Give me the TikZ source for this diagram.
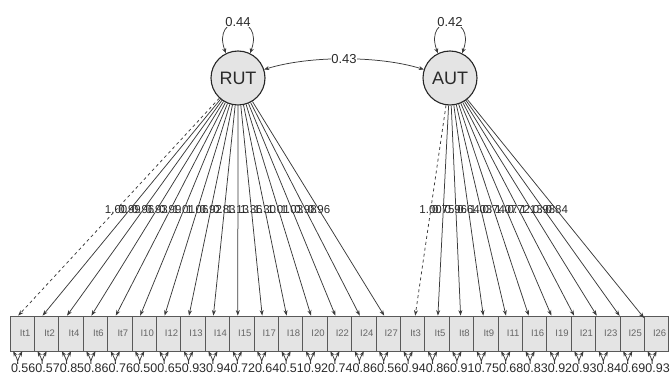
\documentclass[tikz,border=0pt]{standalone}
\usepackage{fontspec}
\setmainfont{Liberation Sans}
\usetikzlibrary{arrows.meta,calc}
\definecolor{edgecol}{HTML}{3A3A3A}
\definecolor{boxfill}{HTML}{E4E4E4}
\definecolor{numcol}{HTML}{2A2A2A}
\begin{document}
\begin{tikzpicture}[x=1pt,y=-1pt,
  latent/.style={circle,draw=black!85,line width=1.1pt,fill=boxfill,
    minimum size=54pt,inner sep=0pt,font=\fontsize{18}{20}\selectfont,text=numcol},
  manifest/.style={rectangle,draw=black!65,line width=0.75pt,fill=boxfill,
    minimum width=24.4pt,minimum height=35pt,inner sep=0pt,
    font=\fontsize{9.5}{10}\selectfont,text=black!60},
  load/.style={draw=edgecol,line width=0.75pt,-{Stealth[length=5.5pt,width=4pt]}},
  resid/.style={draw=edgecol,line width=0.75pt,
    {Stealth[length=5pt,width=4pt]}-{Stealth[length=5pt,width=4pt]}},
  loadval/.style={font=\fontsize{11.5}{12}\selectfont,text=numcol,inner sep=0pt},
  residval/.style={font=\fontsize{12.5}{13}\selectfont,text=numcol,fill=white,inner sep=0.3pt},
  varval/.style={font=\fontsize{13}{14}\selectfont,text=numcol,fill=white,inner sep=0.6pt}
]
\useasboundingbox (0,0) rectangle (670,374);

% latent factors
\node[latent] (RUT) at (238,78) {RUT};
\node[latent] (AUT) at (450,78) {AUT};

% factor variances
\draw[resid] (RUT.116) .. controls +(-15,-40) and +(15,-40) .. (RUT.64);
\node[varval] (vRUT) at (238,22) {0.44};
\draw[resid] (AUT.116) .. controls +(-15,-40) and +(15,-40) .. (AUT.64);
\node[varval] (vAUT) at (450,22) {0.42};

% factor covariance
\draw[resid] (RUT.18) .. controls +(45,-14) and +(-45,-14) .. node[varval] (cov) {0.43} (AUT.162);

% indicators of RUT
\foreach \nm/\rv/\lv [count=\k from 0] in {
  It1/0.56/1.00, It2/0.57/0.99, It4/0.85/0.96, It6/0.86/0.93,
  It7/0.76/0.99, I10/0.50/1.01, I12/0.65/1.06, I13/0.93/0.92,
  I14/0.94/0.83, I15/0.72/1.13, I17/0.64/1.36, I18/0.51/1.30,
  I20/0.92/1.01, I22/0.74/1.03, I24/0.86/0.98, I27/0.56/0.96}{
  \pgfmathsetmacro\cx{22.2+24.4*\k}
  \node[manifest] (m\k) at (\cx,333.5) {\hspace*{6pt}\nm};
  \coordinate (e\k) at ($(m\k.north)+(-4,0)$);
  \ifnum\k=0 \def\lsty{dashed}\else\def\lsty{solid}\fi
  \draw[load,\lsty] (RUT) -- (e\k);
  \node[loadval] (l\k) at ($(RUT.center)!0.5546!(e\k)$) {\lv};
  \draw[resid] ([xshift=-9pt]m\k.south) .. controls +(9,16) and +(-9,16) .. ([xshift=0pt]m\k.south);
  \node[residval] (r\k) at ($(m\k.south)+(1,17)$) {\rv};
}

% indicators of AUT
\foreach \nm/\rv/\lv [count=\k from 16] in {
  It3/0.94/1.00, It5/0.86/0.75, It8/0.91/0.96, It9/0.75/0.64,
  I11/0.68/1.03, I16/0.83/0.74, I19/0.92/1.07, I21/0.93/0.72,
  I23/0.84/1.13, I25/0.69/0.98, I26/0.93/0.84}{
  \pgfmathsetmacro\cx{22.2+24.4*\k}
  \node[manifest] (m\k) at (\cx,333.5) {\hspace*{6pt}\nm};
  \ifnum\k=16 \def\lsty{dashed}\else\def\lsty{solid}\fi
  \draw[load,\lsty] (AUT) -- (m\k);
  \node[loadval] (l\k) at ($(AUT.center)!0.5166!(m\k.center)$) {\lv};
  \draw[resid] ([xshift=-9pt]m\k.south) .. controls +(9,16) and +(-9,16) .. ([xshift=0pt]m\k.south);
  \node[residval] (r\k) at ($(m\k.south)+(1,17)$) {\rv};
}
\end{tikzpicture}
\end{document}
